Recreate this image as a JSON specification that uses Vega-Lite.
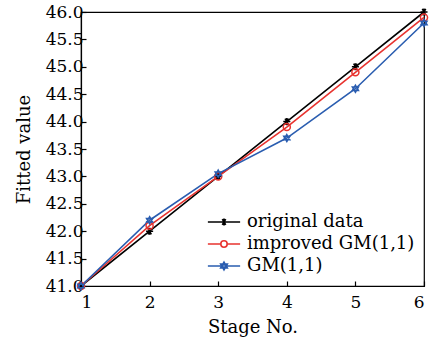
{
  "$schema": "https://vega.github.io/schema/vega-lite/v6.json",
  "autosize": "none",
  "width": 343,
  "height": 274,
  "padding": {"left": 81, "top": 12, "right": 18, "bottom": 54},
  "background": "white",
  "config": {
    "view": {"stroke": "black", "strokeWidth": 1.2},
    "font": "DejaVu Serif",
    "axis": {
      "domainColor": "black", "tickColor": "black", "labelColor": "black", "titleColor": "black",
      "labelFont": "DejaVu Serif", "titleFont": "DejaVu Serif",
      "labelFontSize": 17, "titleFontSize": 18, "titleFontWeight": "normal",
      "grid": false, "tickSize": -5, "domainWidth": 1.2, "tickWidth": 1.2
    }
  },
  "data": {"values": [
    {"stage": 1, "value": 41.0, "series": "original data", "marker": "o"},
    {"stage": 2, "value": 42.0, "series": "original data", "marker": "o"},
    {"stage": 3, "value": 43.0, "series": "original data", "marker": "o"},
    {"stage": 4, "value": 44.0, "series": "original data", "marker": "o"},
    {"stage": 5, "value": 45.0, "series": "original data", "marker": "o"},
    {"stage": 6, "value": 46.0, "series": "original data", "marker": "o"},
    {"stage": 1, "value": 41.0, "series": "improved GM(1,1)", "marker": "i"},
    {"stage": 2, "value": 42.1, "series": "improved GM(1,1)", "marker": "i"},
    {"stage": 3, "value": 43.0, "series": "improved GM(1,1)", "marker": "i"},
    {"stage": 4, "value": 43.9, "series": "improved GM(1,1)", "marker": "i"},
    {"stage": 5, "value": 44.9, "series": "improved GM(1,1)", "marker": "i"},
    {"stage": 6, "value": 45.9, "series": "improved GM(1,1)", "marker": "i"},
    {"stage": 1, "value": 41.0, "series": "GM(1,1)", "marker": "g"},
    {"stage": 2, "value": 42.2, "series": "GM(1,1)", "marker": "g"},
    {"stage": 3, "value": 43.05, "series": "GM(1,1)", "marker": "g"},
    {"stage": 4, "value": 43.7, "series": "GM(1,1)", "marker": "g"},
    {"stage": 5, "value": 44.6, "series": "GM(1,1)", "marker": "g"},
    {"stage": 6, "value": 45.8, "series": "GM(1,1)", "marker": "g"}
  ]},
  "encoding": {
    "x": {"field": "stage", "type": "quantitative",
          "scale": {"domain": [1, 6], "nice": false, "zero": false},
          "axis": {"title": "Stage No.", "values": [1, 2, 3, 4, 5, 6], "format": "d", "labelPadding": 13, "titlePadding": 8}},
    "y": {"field": "value", "type": "quantitative",
          "scale": {"domain": [41, 46], "nice": false, "zero": false},
          "axis": {"title": "Fitted value", "values": [41, 41.5, 42, 42.5, 43, 43.5, 44, 44.5, 45, 45.5, 46], "format": ".1f", "labelPadding": 3, "titlePadding": 12}}
  },
  "layer": [
    {
      "mark": {"type": "line", "strokeWidth": 1.6},
      "encoding": {
        "color": {"field": "series", "type": "nominal",
          "scale": {"domain": ["original data", "improved GM(1,1)", "GM(1,1)"], "range": ["#000000", "#e8332f", "#2a5db0"]},
          "legend": {
            "title": null, "orient": "none", "legendX": 134, "legendY": 201,
            "labelFontSize": 18, "labelFont": "DejaVu Serif", "labelColor": "black", "labelLimit": 400,
            "symbolSize": 72, "symbolStrokeWidth": 1.6, "rowPadding": 4, "labelOffset": 14,
            "encode": {"symbols": {"update": {
              "fill": {"value": "transparent"},
              "shape": {"signal": "datum.value === 'original data' ? 'M-3.8,0H3.8M-0.8,0H0.8M-0.4,-0.7L0.4,0.7M-0.4,0.7L0.4,-0.7M0,-0.8V0.8' : datum.value === 'improved GM(1,1)' ? 'M-3.8,0H-0.75M0.75,0H3.8M0.75,0A0.75,0.75 0 1 1 -0.75,0A0.75,0.75 0 1 1 0.75,0' : 'M-3.8,0H3.8M0,-0.9L0.78,0.45L-0.78,0.45ZM0,0.9L0.78,-0.45L-0.78,-0.45Z'"}
            }}}
          }},
        "detail": {"field": "series"}
      }
    },
    {
      "mark": {"type": "point", "filled": false, "strokeWidth": 1.5, "opacity": 1},
      "encoding": {
        "color": {"field": "series", "type": "nominal", "legend": null},
        "shape": {"field": "marker", "type": "nominal", "legend": null,
          "scale": {"domain": ["o", "i", "g"],
                    "range": ["M-1,0H1M-0.5,-0.87L0.5,0.87M-0.5,0.87L0.5,-0.87M0,-1V1", "circle", "M0,-1L0.866,0.5L-0.866,0.5ZM0,1L0.866,-0.5L-0.866,-0.5Z"]}},
        "size": {"value": 50}
      }
    }
  ]
}
